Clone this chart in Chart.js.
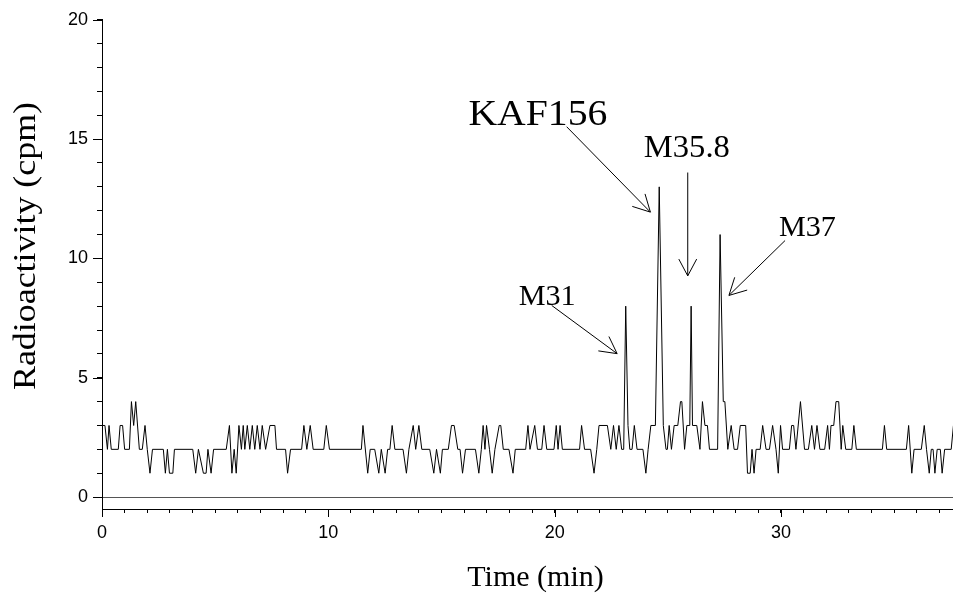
<!DOCTYPE html>
<html>
<head>
<meta charset="utf-8">
<script src="https://cdn.jsdelivr.net/npm/chart.js@4.4.1/dist/chart.umd.min.js"></script>
<style>
  html, body { margin: 0; padding: 0; background: #fff; }
  #wrap { width: 953px; height: 599px; }
</style>
</head>
<body>
<div id="wrap"><canvas id="chart" width="953" height="599"></canvas></div>
<script>
// Radio-chromatogram trace: retention time (min) and counts (cpm) at each vertex
const times = [
  0, 0.13, 0.24, 0.31, 0.41, 0.72, 0.8, 0.91, 1.0, 1.21,
  1.3, 1.4, 1.49, 1.65, 1.78, 1.9, 2.0, 2.12, 2.23, 2.71,
  2.8, 2.89, 2.98, 3.13, 3.2, 4.01, 4.14, 4.26, 4.48, 4.6,
  4.68, 4.82, 4.93, 5.49, 5.63, 5.74, 5.84, 5.93, 6.05, 6.16,
  6.24, 6.31, 6.42, 6.53, 6.64, 6.75, 6.86, 6.98, 7.08, 7.23,
  7.42, 7.64, 7.71, 8.11, 8.2, 8.33, 8.82, 8.92, 9.05, 9.2,
  9.33, 9.8, 9.91, 10.05, 11.46, 11.53, 11.74, 11.85, 12.05, 12.23,
  12.34, 12.51, 12.62, 12.72, 12.82, 12.94, 13.3, 13.45, 13.56, 13.75,
  13.86, 14.0, 14.13, 14.48, 14.66, 14.78, 14.95, 15.04, 15.3, 15.44,
  15.56, 15.72, 15.82, 15.93, 16.06, 16.5, 16.65, 16.76, 16.84, 16.92,
  16.99, 17.12, 17.24, 17.36, 17.55, 17.62, 17.73, 17.98, 18.16, 18.26,
  18.72, 18.82, 18.91, 19.12, 19.24, 19.43, 19.53, 19.65, 19.97, 20.07,
  20.15, 20.24, 20.34, 21.1, 21.19, 21.32, 21.59, 21.74, 21.86, 21.96,
  22.33, 22.48, 22.6, 22.72, 22.84, 22.96, 23.05, 23.14, 23.24, 23.32,
  23.42, 23.52, 23.64, 23.9, 24.03, 24.13, 24.25, 24.45, 24.62, 24.8,
  24.92, 24.98, 25.06, 25.16, 25.28, 25.44, 25.56, 25.62, 25.74, 25.84,
  25.97, 26.03, 26.09, 26.28, 26.42, 26.53, 26.64, 26.75, 26.84, 27.2,
  27.31, 27.45, 27.52, 27.65, 27.8, 27.93, 28.08, 28.2, 28.44, 28.52,
  28.64, 28.72, 28.81, 28.9, 29.08, 29.19, 29.34, 29.49, 29.63, 29.78,
  29.88, 29.98, 30.07, 30.37, 30.47, 30.56, 30.66, 30.86, 31.04, 31.21,
  31.36, 31.48, 31.59, 31.72, 31.93, 32.06, 32.14, 32.21, 32.33, 32.43,
  32.55, 32.66, 32.73, 32.86, 33.13, 33.22, 33.33, 34.48, 34.57, 34.67,
  35.54, 35.64, 35.78, 35.88, 36.2, 36.33, 36.43, 36.55, 36.64, 36.72,
  36.8, 36.9, 37.04, 37.12, 37.23, 37.52, 37.62
];
const counts = [
  3, 3, 2, 3, 2, 2, 3, 3, 2, 2,
  4, 3, 4, 2, 2, 3, 2, 1, 2, 2,
  1, 2, 1, 1, 2, 2, 1, 2, 1, 1,
  2, 1, 2, 2, 3, 1, 2, 1, 3, 2,
  3, 2, 3, 2, 3, 2, 3, 2, 3, 2,
  3, 3, 2, 2, 1, 2, 2, 3, 2, 3,
  2, 2, 3, 2, 2, 3, 1, 2, 2, 1,
  2, 1, 2, 2, 3, 2, 2, 1, 2, 3,
  2, 3, 2, 2, 1, 2, 1, 2, 2, 3,
  3, 2, 2, 1, 2, 2, 1, 2, 3, 2,
  3, 2, 1, 2, 3, 3, 2, 2, 1, 2,
  2, 3, 2, 3, 2, 2, 3, 2, 2, 3,
  2, 3, 2, 2, 3, 2, 2, 1, 2, 3,
  3, 2, 3, 2, 3, 2, 2, 8, 3, 2,
  2, 3, 2, 2, 1, 2, 3, 3, 13, 3,
  2, 2, 3, 2, 3, 3, 4, 4, 2, 3,
  3, 8, 3, 3, 2, 4, 3, 3, 2, 2,
  11, 4, 4, 2, 3, 2, 2, 3, 3, 1,
  1, 2, 1, 2, 2, 3, 2, 2, 3, 2,
  1, 3, 2, 2, 3, 3, 2, 4, 2, 2,
  3, 2, 3, 2, 2, 3, 2, 3, 3, 4,
  4, 2, 3, 2, 2, 3, 2, 2, 3, 2,
  2, 3, 1, 2, 2, 3, 2, 1, 2, 2,
  1, 2, 2, 1, 2, 2, 3
];

// Labelled tick values and peak names
const xTickLabels = [0, 10, 20, 30];
const yTickLabels = [0, 5, 10, 15, 20];
const peakNames = ['KAF156', 'M35.8', 'M37', 'M31'];
const xTitle = 'Time (min)';
const yTitle = 'Radioactivity (cpm)';

// Callout geometry in axis units: text anchor, arrow tail, arrow head; font size and text span in px
const callouts = [
  { text: peakNames[0], at: [16.19, 15.61], from: [20.53, 15.52], to: [24.23, 11.94], size: 36, span: 139 },
  { text: peakNames[1], at: [23.94, 14.27], from: [25.88, 13.6],  to: [25.88, 9.27],  size: 32, span: 86 },
  { text: peakNames[2], at: [29.91, 10.93], from: [30.18, 10.75], to: [27.70, 8.45],  size: 30, span: 57 },
  { text: peakNames[3], at: [18.41, 8.03],  from: [19.87, 8.03],  to: [22.76, 6.01],  size: 30, span: 57 }
];

const SERIF = '"Liberation Serif", "Times New Roman", serif';
const SANS = '"Liberation Sans", Arial, sans-serif';

function drawArrow(ctx, x0, y0, x1, y1) {
  const ang = Math.atan2(y1 - y0, x1 - x0);
  const len = 19, spread = 28 * Math.PI / 180;
  ctx.beginPath();
  ctx.moveTo(x0, y0);
  ctx.lineTo(x1, y1);
  ctx.moveTo(x1 - len * Math.cos(ang - spread), y1 - len * Math.sin(ang - spread));
  ctx.lineTo(x1, y1);
  ctx.lineTo(x1 - len * Math.cos(ang + spread), y1 - len * Math.sin(ang + spread));
  ctx.stroke();
}

// Text fitted to a given horizontal span
function spanText(ctx, text, x, y, span) {
  const w = ctx.measureText(text).width;
  ctx.save();
  ctx.translate(x, y);
  ctx.scale(span / w, 1);
  ctx.fillText(text, 0, 0);
  ctx.restore();
}

// Longer marks on labelled ticks, axis titles and peak callouts
const decorPlugin = {
  id: 'decor',
  afterDraw(chart) {
    const { ctx, chartArea, scales: { x, y } } = chart;
    ctx.save();
    ctx.strokeStyle = '#000';
    ctx.lineWidth = 1;
    ctx.beginPath();
    xTickLabels.forEach(v => {
      const px = Math.round(x.getPixelForValue(v)) + 0.5;
      ctx.moveTo(px, chartArea.bottom);
      ctx.lineTo(px, chartArea.bottom + 8);
    });
    yTickLabels.forEach(v => {
      const py = Math.round(y.getPixelForValue(v)) + 0.5;
      ctx.moveTo(chartArea.left, py);
      ctx.lineTo(chartArea.left - 9, py);
    });
    ctx.stroke();

    ctx.fillStyle = '#000';
    ctx.font = '30px ' + SERIF;
    ctx.textAlign = 'center';
    ctx.textBaseline = 'middle';
    ctx.fillText(xTitle, (chartArea.left + chartArea.right) / 2 + 8, 578);

    ctx.save();
    ctx.font = '32px ' + SERIF;
    ctx.translate(27, 246);
    ctx.rotate(-Math.PI / 2);
    const tw = ctx.measureText(yTitle).width;
    ctx.scale(288 / tw, 1);
    ctx.fillText(yTitle, 0, 0);
    ctx.restore();

    ctx.textAlign = 'left';
    ctx.textBaseline = 'alphabetic';
    callouts.forEach(c => {
      ctx.font = c.size + 'px ' + SERIF;
      spanText(ctx, c.text, x.getPixelForValue(c.at[0]), y.getPixelForValue(c.at[1]), c.span);
      drawArrow(ctx,
        x.getPixelForValue(c.from[0]), y.getPixelForValue(c.from[1]),
        x.getPixelForValue(c.to[0]), y.getPixelForValue(c.to[1]));
    });
    ctx.restore();
  }
};

new Chart(document.getElementById('chart'), {
  type: 'line',
  data: {
    datasets: [{
      data: times.map((t, i) => ({ x: t, y: counts[i] })),
      borderColor: '#000',
      borderWidth: 1,
      pointRadius: 0,
      tension: 0,
      fill: false
    }]
  },
  options: {
    responsive: false,
    animation: false,
    devicePixelRatio: 1,
    layout: { padding: { left: 0, right: 0, top: 19, bottom: 0 } },
    plugins: { legend: { display: false }, tooltip: { enabled: false } },
    scales: {
      x: {
        type: 'linear',
        min: 0,
        max: 37.6,
        ticks: {
          stepSize: 1,
          includeBounds: false,
          autoSkip: false,
          maxRotation: 0,
          color: '#000',
          padding: 9,
          font: { family: SANS, size: 18 },
          callback: v => xTickLabels.includes(v) ? String(v) : ''
        },
        grid: { drawOnChartArea: false, tickLength: 4, tickColor: '#000', color: '#000' },
        border: { display: true, color: '#000', width: 1 },
        afterFit: s => { s.height = 90; }
      },
      y: {
        type: 'linear',
        min: -0.5,
        max: 20,
        ticks: {
          stepSize: 1,
          includeBounds: false,
          autoSkip: false,
          color: '#000',
          padding: 9,
          font: { family: SANS, size: 18 },
          callback: v => yTickLabels.includes(v) ? String(v) : ''
        },
        grid: {
          drawOnChartArea: true,
          tickLength: 5,
          tickColor: '#000',
          color: c => (c.tick && c.tick.value === 0) ? '#555' : 'rgba(0,0,0,0)'
        },
        border: { display: true, color: '#000', width: 1 },
        afterFit: s => { s.width = 102; }
      }
    }
  },
  plugins: [decorPlugin]
});
</script>
</body>
</html>
